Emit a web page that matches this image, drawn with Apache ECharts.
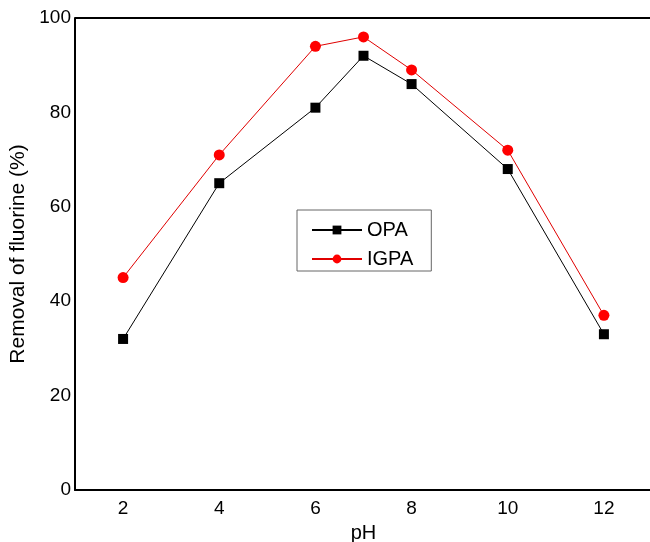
<!DOCTYPE html>
<html><head><meta charset="utf-8">
<script src="https://cdn.jsdelivr.net/npm/echarts@6/dist/echarts.min.js"></script>
<style>html,body{margin:0;padding:0;background:#fff}#c{width:650px;height:542px}</style>
</head><body><div id="c"></div>
<script>
const pH = [2, 4, 6, 7, 8, 10, 12];
const opa = [32, 65, 81, 92, 86, 68, 33];
const igpa = [45, 71, 94, 96, 89, 72, 37];
const xTicks = [2, 4, 6, 8, 10, 12];
const yTicks = [0, 20, 40, 60, 80, 100];

const chart = echarts.init(document.getElementById('c'));
const font = 'Liberation Sans, Arial, sans-serif';
chart.setOption({
  animation: false,
  backgroundColor: '#fff',
  grid: {left: 75, right: -2, top: 18, bottom: 52, containLabel: false, outerBoundsMode: 'none'},
  legend: {
    left: 297, top: 210, orient: 'vertical',
    itemGap: 9, itemWidth: 50, itemHeight: 11,
    padding: [10, 18, 2, 14],
    borderColor: '#666', borderWidth: 1,
    textStyle: {fontFamily: font, fontSize: 20, color: '#000'},
    data: ['OPA', 'IGPA']
  },
  xAxis: {
    type: 'value', min: 1, max: 13, interval: 1,
    name: 'pH', nameLocation: 'middle', nameGap: 33,
    nameTextStyle: {fontFamily: font, fontSize: 20, color: '#000'},
    axisLine: {lineStyle: {color: '#000', width: 2}},
    axisTick: {show: false},
    splitLine: {show: false},
    axisLabel: {fontFamily: font, fontSize: 19, color: '#000', margin: 9,
      formatter: v => xTicks.includes(v) ? String(v) : ''}
  },
  yAxis: {
    type: 'value', min: 0, max: 100, interval: 20,
    name: 'Removal of fluorine (%)', nameLocation: 'middle', nameGap: 45,
    nameTextStyle: {fontFamily: font, fontSize: 21, color: '#000'},
    axisLine: {show: true, lineStyle: {color: '#000', width: 2}},
    axisTick: {show: false},
    splitLine: {show: false},
    axisLabel: {fontFamily: font, fontSize: 19, color: '#000', margin: 4,
      formatter: v => yTicks.includes(v) ? String(v) : ''}
  },
  series: [
    {name: 'OPA', type: 'line', data: pH.map((x, i) => [x, opa[i]]),
     symbol: 'rect', symbolSize: 10,
     lineStyle: {color: '#000', width: 1}, itemStyle: {color: '#000'}},
    {name: 'IGPA', type: 'line', data: pH.map((x, i) => [x, igpa[i]]),
     symbol: 'circle', symbolSize: 11,
     lineStyle: {color: '#e00000', width: 1}, itemStyle: {color: '#ff0000'}},
    {type: 'line', data: [[1, 100], [13, 100]], symbol: 'none', silent: true,
     lineStyle: {color: '#000', width: 2}, tooltip: {show: false}}
  ]
});
</script></body></html>
